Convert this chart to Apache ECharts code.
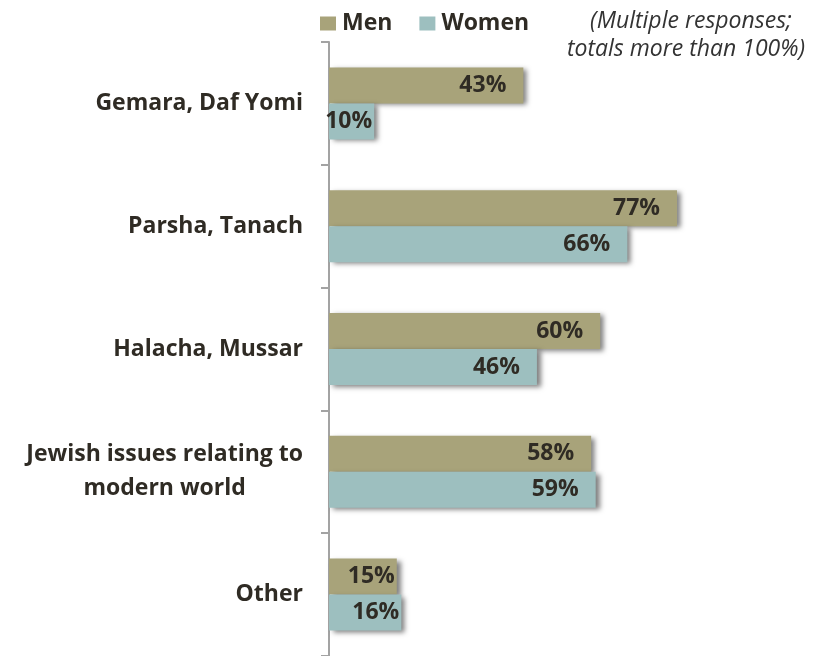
<!DOCTYPE html>
<html>
<head>
<meta charset="utf-8">
<script src="https://cdn.jsdelivr.net/npm/echarts@6/dist/echarts.min.js"></script>
<style>
html, body { margin: 0; padding: 0; background: #fff; }
#chart { width: 827px; height: 656px; }
</style>
</head>
<body>
<div id="chart"></div>
<script>
var categories = ['Gemara, Daf Yomi', 'Parsha, Tanach', 'Halacha, Mussar', 'Jewish issues relating to\nmodern world', 'Other'];
var men = [43, 77, 60, 58, 15];
var women = [10, 66, 46, 59, 16];

var textColor = '#2f2b24';
var font = '"Open Sans", sans-serif';

var myChart = echarts.init(document.getElementById('chart'));

// short bars: keep the label inside, close to the end
function toItems(arr) {
    return arr.map(function (v) {
        return v < 20 ? { value: v, label: { distance: 2 } } : v;
    });
}

function barLabel() {
    return {
        show: true,
        position: 'insideRight',
        distance: 17,
        formatter: '{c}%',
        color: textColor,
        fontFamily: font,
        fontWeight: 'bold',
        fontSize: 23
    };
}

myChart.setOption({
    animation: false,
    legend: {
        data: ['Men', 'Women'],
        left: 315,
        top: 7,
        itemWidth: 16,
        itemHeight: 14,
        itemGap: 27,
        icon: 'rect',
        textStyle: { color: textColor, fontFamily: font, fontWeight: 'bold', fontSize: 23, padding: [0, 0, 0, 1] }
    },
    graphic: [
        {
            type: 'text', x: 691, y: 21,
            style: { text: '(Multiple responses;', fill: '#333', font: 'italic 23px ' + font, align: 'center', verticalAlign: 'middle' }
        },
        {
            type: 'text', x: 686, y: 49,
            style: { text: 'totals more than 100%)', fill: '#333', font: 'italic 23px ' + font, align: 'center', verticalAlign: 'middle' }
        }
    ],
    grid: { left: 329, top: 42, width: 452, height: 616, containLabel: false },
    xAxis: {
        type: 'value',
        min: 0,
        max: 100,
        show: false
    },
    yAxis: {
        type: 'category',
        data: categories,
        inverse: true,
        axisLine: { show: true, lineStyle: { color: '#a3a3a3', width: 2 } },
        axisTick: { show: true, alignWithLabel: false, length: 8, lineStyle: { color: '#a3a3a3', width: 2 } },
        axisLabel: {
            margin: 26,
            color: textColor,
            fontFamily: font,
            fontWeight: 'bold',
            fontSize: 23,
            lineHeight: 34,
            formatter: function (v) {
                if (v.indexOf('\n') < 0) return v;
                return v.split('\n').map(function (s) { return '{c|' + s + '}'; }).join('\n');
            },
            rich: {
                c: { align: 'center', color: textColor, fontFamily: font, fontWeight: 'bold', fontSize: 23, lineHeight: 34 }
            }
        }
    },
    series: [
        {
            name: 'Men',
            type: 'bar',
            data: toItems(men),
            barWidth: 36,
            barGap: '0%',
            itemStyle: { color: '#a8a37a', shadowColor: 'rgba(0,0,0,0.5)', shadowBlur: 5, shadowOffsetX: 4, shadowOffsetY: 2 },
            label: barLabel()
        },
        {
            name: 'Women',
            type: 'bar',
            data: toItems(women),
            barWidth: 36,
            barGap: '0%',
            itemStyle: { color: '#9dbfbf', shadowColor: 'rgba(0,0,0,0.5)', shadowBlur: 5, shadowOffsetX: 4, shadowOffsetY: 2 },
            label: barLabel()
        }
    ]
});
</script>
</body>
</html>
